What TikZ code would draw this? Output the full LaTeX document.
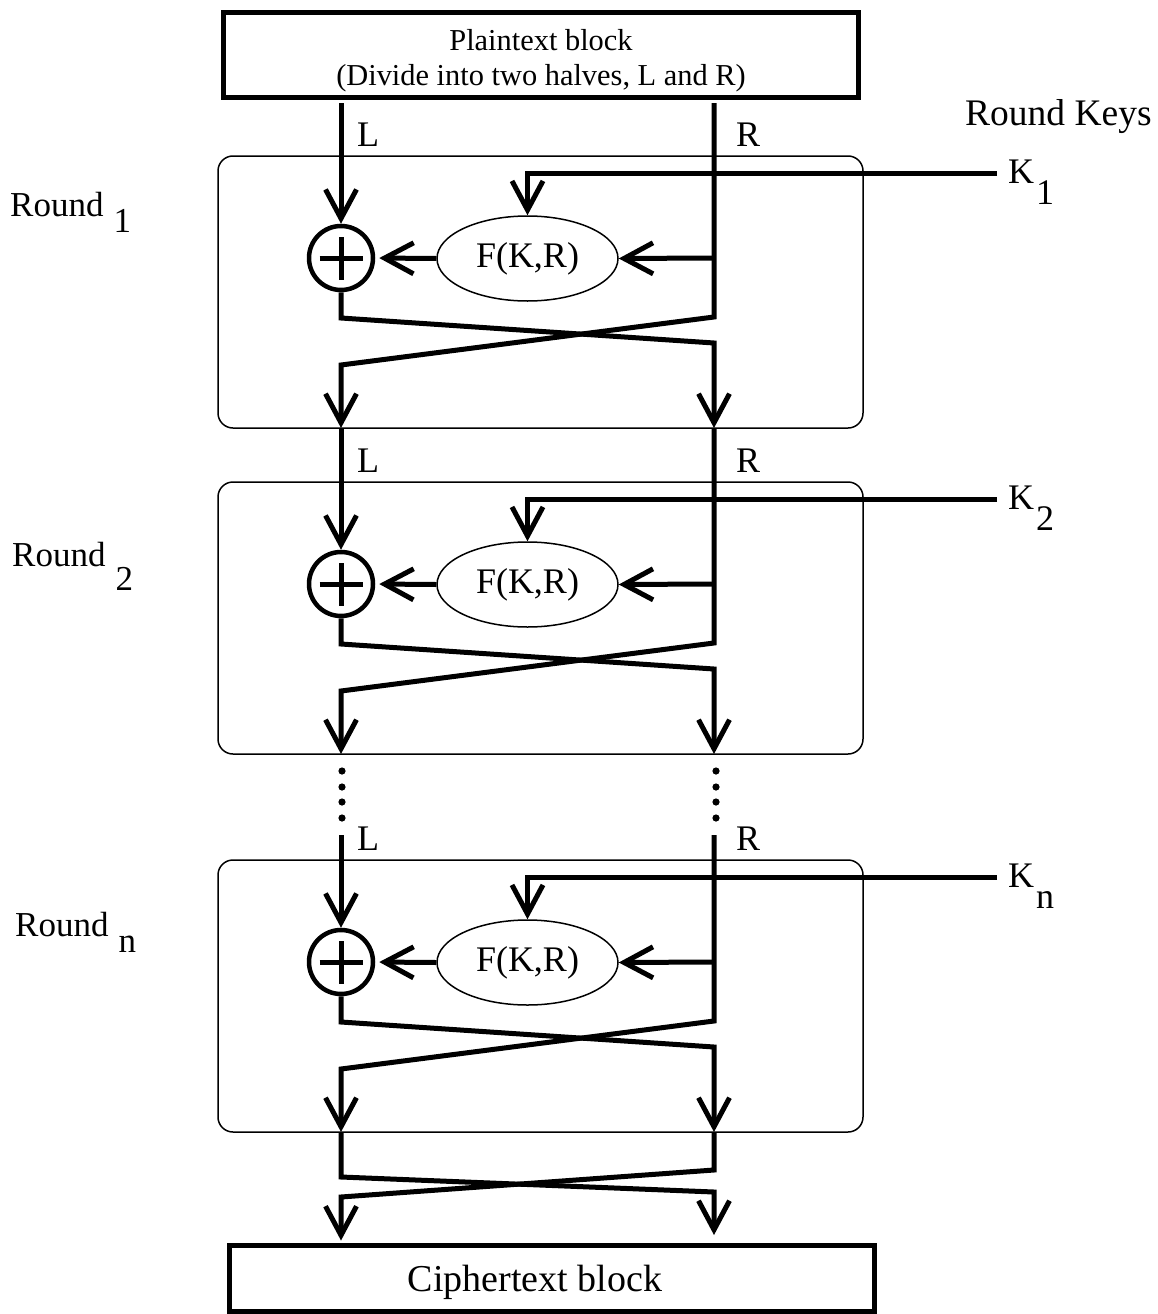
\documentclass[tikz,border=0pt]{standalone}
\usepackage{fontspec}
\setmainfont{Liberation Serif}
\usetikzlibrary{arrows.meta,shapes.geometric,calc}
\begin{document}
\begin{tikzpicture}[x=1pt,y=-1pt,
  thickln/.style={line width=5pt},
  arr/.style={thickln,-{Straight Barb[length=29pt,width=31pt]}},
  roundbox/.style={draw,rounded corners=15pt,line width=1.5pt,inner sep=0pt},
  xorc/.style={circle,draw,line width=4.5pt,minimum size=64pt,inner sep=0pt},
  fbox/.style={ellipse,draw,line width=1.5pt,minimum width=181pt,minimum height=85pt,inner sep=0pt,font=\fontsize{36}{40}\selectfont},
  lbl/.style={anchor=base west,inner sep=0pt,font=\fontsize{36}{40}\selectfont},
  blockbox/.style={draw,line width=5pt,inner sep=0pt}
]
\useasboundingbox (0,0) rectangle (1157,1314);

% plaintext block
\node[blockbox,minimum width=635pt,minimum height=85pt] (plain) at (541,55) {};
\node[align=center,inner sep=0pt,font=\fontsize{30.4}{35}\selectfont] (ptxt) at (541,61) {Plaintext block\\(Divide into two halves, L and R)};
\coordinate (Ltop) at (341,103);
\coordinate (Rtop) at (714,103);
\coordinate (Lmid) at (341,835);
\coordinate (Rmid) at (714,835);

\node[lbl,font=\fontsize{37.5}{40}\selectfont] (rk) at (965,125) {Round Keys};

% rounds
\foreach \o/\i/\s in {0/1/1,326/2/2,704/n/n}{
  \node[roundbox,minimum width=645pt,minimum height=272pt] (box\i) at (540.5,292+\o) {};
  \node[xorc] (xor\i) at (341,258+\o) {};
  \node[fbox] (F\i) at (527.5,258.5+\o) {F(K,R)};
  \coordinate (kend\i) at (997,173+\o);
  \coordinate (rtap\i) at (714,258+\o);
  \coordinate (Rend\i) at (714,317+\o);
  \coordinate (Lout\i) at (341,428+\o);
  \coordinate (Rout\i) at (714,428+\o);
  \node[lbl] (key\i) at (1008,183+\o) {K\hspace{2pt}\raisebox{-21pt}{\s}};
  \node[lbl] (Llab\i) at (357,146+\o) {L};
  \node[lbl] (Rlab\i) at (736,146+\o) {R};
  \draw[thickln] ([xshift=-21.5pt]xor\i.center) -- ([xshift=21.5pt]xor\i.center);
  \draw[thickln] ([yshift=-21.5pt]xor\i.center) -- ([yshift=21.5pt]xor\i.center);
  \draw[arr] (kend\i) -| (F\i.north);
  \draw[arr] (rtap\i) -- (F\i.east);
  \draw[arr,shorten >=4pt] (F\i.west) -- (xor\i.east);
  \draw[arr] (xor\i.south) -- (341,318+\o) -- (714,343+\o) -- (Rout\i);
}

% round labels
\foreach \i/\x/\y/\d/\s in {1/10/216/16/1,2/12/566/24/2,n/15/936/16/n}{
  \node[lbl,font=\fontsize{35}{40}\selectfont] (rnd\i) at (\x,\y) {Round\hspace{10pt}\raisebox{-\d pt}{\s}};
}

% L and R flows between rounds
\draw[arr] (Ltop) -- (xor1.north);
\draw[arr] (Rtop) -- (Rend1) -- (341,365) -- (Lout1);
\draw[arr] (Lout1) -- (xor2.north);
\draw[arr] (Rout1) -- (Rend2) -- (341,691) -- (Lout2);
\draw[arr] (Lmid) -- (xorn.north);
\draw[arr] (Rmid) -- (Rendn) -- (341,1069) -- (Loutn);

% ellipsis dots
\foreach \yy in {771,787,802,818}{
  \fill (342,\yy) circle (3.6pt);
  \fill (716,\yy) circle (3.6pt);
}

% ciphertext block
\node[blockbox,minimum width=645pt,minimum height=66pt,text height=30pt,text depth=4pt,font=\fontsize{38}{44}\selectfont] (cipher) at (552,1278.5) {Ciphertext block\kern34pt};
\draw[arr,shorten >=8pt] (Loutn) -- (341,1177) -- (714,1192) -- (Routn |- cipher.north);
\draw[arr,shorten >=2.5pt] (Routn) -- (714,1170) -- (341,1197) -- (Loutn |- cipher.north);
\end{tikzpicture}
\end{document}
